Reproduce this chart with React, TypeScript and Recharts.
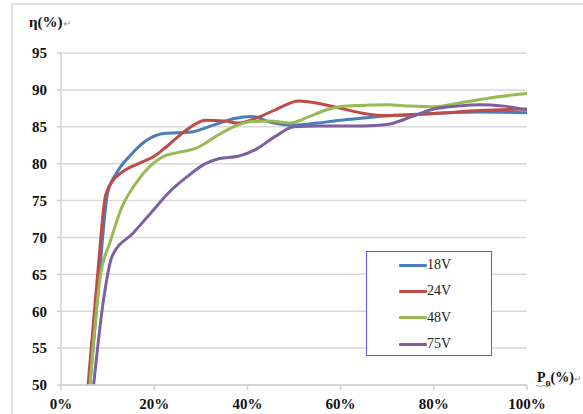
import React from 'react';
import { LineChart, Line, XAxis, YAxis, CartesianGrid, Legend } from 'recharts';

const xTicks = [0, 20, 40, 60, 80, 100];
const yTicks = [50, 55, 60, 65, 70, 75, 80, 85, 90, 95];

const load18 = [6.2, 8, 10, 12, 15, 18, 22, 28, 33, 37, 41, 45, 50, 55, 60, 65, 70, 80, 90, 100];
const eff18 = [50, 63, 76, 78.8, 81.2, 83, 84.1, 84.3, 85.3, 86.1, 86.4, 85.6, 85.2, 85.5, 85.9, 86.2, 86.5, 86.8, 87, 86.9];

const load24 = [5.8, 8, 9.5, 11, 13, 17, 20, 23, 27, 31, 35, 38, 42, 46, 51, 55, 60, 65, 70, 80, 90, 100];
const eff24 = [50, 66, 75.5, 77.6, 78.8, 80.1, 81, 82.5, 84.6, 85.9, 85.8, 85.5, 86.2, 87.3, 88.5, 88.2, 87.5, 86.8, 86.5, 86.8, 87.2, 87.4];

const load48 = [6.2, 8.5, 10.5, 13, 16, 19, 22, 25, 29, 33, 37, 41, 45, 49, 53, 57, 61, 65, 70, 75, 80, 87, 93, 100];
const eff48 = [50, 65, 69.3, 74, 77.3, 79.6, 81, 81.5, 82.1, 83.6, 85, 85.7, 85.8, 85.5, 86.3, 87.3, 87.8, 87.9, 88, 87.8, 87.7, 88.4, 89, 89.5];

const load75 = [7, 9, 11, 15.5, 19.8, 23, 27, 31, 34, 38, 42, 46, 50, 55, 60, 65, 70, 75, 80, 85, 90, 95, 100];
const eff75 = [50, 61, 67.5, 70.6, 73.7, 76, 78.2, 80, 80.7, 81, 82, 83.7, 85, 85.1, 85.1, 85.1, 85.3, 86.3, 87.4, 87.8, 88, 87.8, 87.3];

const seriesNames = ['18V', '24V', '48V', '75V'];
const seriesColors = ['#4A7EBB', '#BE4B48', '#98B954', '#7D60A0'];

const toPoints = (xs: number[], ys: number[]) => xs.map((x, i) => ({ x, y: ys[i] }));
const series = [
  toPoints(load18, eff18),
  toPoints(load24, eff24),
  toPoints(load48, eff48),
  toPoints(load75, eff75),
];

const FONT = "Liberation Serif, Times New Roman, serif";

const YLabel = (props: any) => {
  const vb = props.viewBox || { x: 0, y: 53 };
  return (
    <text x={vb.x + 29} y={vb.y - 26} fontFamily={FONT} style={{ fontFamily: FONT }} fontSize={15} fontWeight="bold" fill="#111">
      η(%)
      <tspan fontSize={10} fontWeight="normal" fill="#999">↵</tspan>
    </text>
  );
};

const XLabel = (props: any) => {
  const vb = props.viewBox || { x: 61, y: 385, width: 466 };
  const x0 = vb.x + vb.width + 10;
  const y0 = vb.y - 3;
  return (
    <g>
      <text x={x0} y={y0} fontFamily={FONT} style={{ fontFamily: FONT }} fontSize={14} fontWeight="bold" fill="#111">
        P
        <tspan fontSize={10} dy={4}>o</tspan>
        <tspan dy={-4}>(%)</tspan>
        <tspan fontSize={9} fontWeight="normal" fill="#999">↵</tspan>
      </text>
      <path
        d={`M${x0 - 1} ${y0 + 4} q1.5 -1.5 3 0 t3 0 t3 0 t3 0 t3 0`}
        stroke="#3a9a3a"
        strokeWidth={0.8}
        fill="none"
      />
    </g>
  );
};

const renderLegend = () => (
  <div
    style={{
      width: 126,
      height: 105,
      border: '1.5px solid #5a5aff',
      boxSizing: 'border-box',
      background: '#fff',
      paddingTop: 0,
    }}
  >
    {seriesNames.map((n, i) => (
      <div key={n} style={{ display: 'flex', alignItems: 'center', height: 26.3 }}>
        <div style={{ width: 28, height: 3, background: seriesColors[i], marginLeft: 32, borderRadius: 1 }} />
        <span style={{ fontFamily: FONT, fontSize: 14, color: '#222', lineHeight: '14px' }}>{n}</span>
      </div>
    ))}
  </div>
);

const tickStyle = { fontFamily: FONT, fontSize: 15, fontWeight: 'bold', fill: '#111' };

export default function App() {
  return (
    <div style={{ position: 'absolute', left: 0, top: 0, width: 583, height: 414, background: '#fff', overflow: 'hidden' }}>
      <div
        style={{
          position: 'absolute',
          left: 11,
          top: 3,
          width: 700,
          height: 500,
          borderTop: '2px solid #e3e3e3',
          borderLeft: '2px solid #e3e3e3',
        }}
      />
      <div style={{ position: 'absolute', left: 0, top: 0 }}>
        <LineChart width={583} height={414} margin={{ top: 53, right: 56, bottom: 0, left: 0 }}>
          <CartesianGrid vertical={false} stroke="#d9d9d9" strokeWidth={1.5} />
          <XAxis
            type="number"
            dataKey="x"
            domain={[0, 100]}
            ticks={xTicks}
            tickFormatter={(v: number) => `${v}%`}
            allowDataOverflow
            height={29}
            stroke="#d0d0d0"
            strokeWidth={1.5}
            tickSize={5}
            tickMargin={8}
            tick={tickStyle}
            interval={0}
            label={<XLabel />}
          />
          <YAxis
            type="number"
            domain={[50, 95]}
            ticks={yTicks}
            allowDataOverflow
            width={61}
            stroke="#d0d0d0"
            strokeWidth={1.5}
            tickSize={4}
            tickMargin={10}
            tick={tickStyle}
            interval={0}
            label={<YLabel />}
          />
          <Legend
            layout="vertical"
            align="center"
            verticalAlign="middle"
            content={renderLegend}
            wrapperStyle={{ position: 'absolute', left: 366, top: 251, width: 126, height: 105 }}
          />
          {series.map((pts, i) => (
            <Line
              key={seriesNames[i]}
              data={pts}
              dataKey="y"
              name={seriesNames[i]}
              type="monotone"
              stroke={seriesColors[i]}
              strokeWidth={3}
              dot={false}
              activeDot={false}
              isAnimationActive={false}
            />
          ))}
        </LineChart>
      </div>
    </div>
  );
}
